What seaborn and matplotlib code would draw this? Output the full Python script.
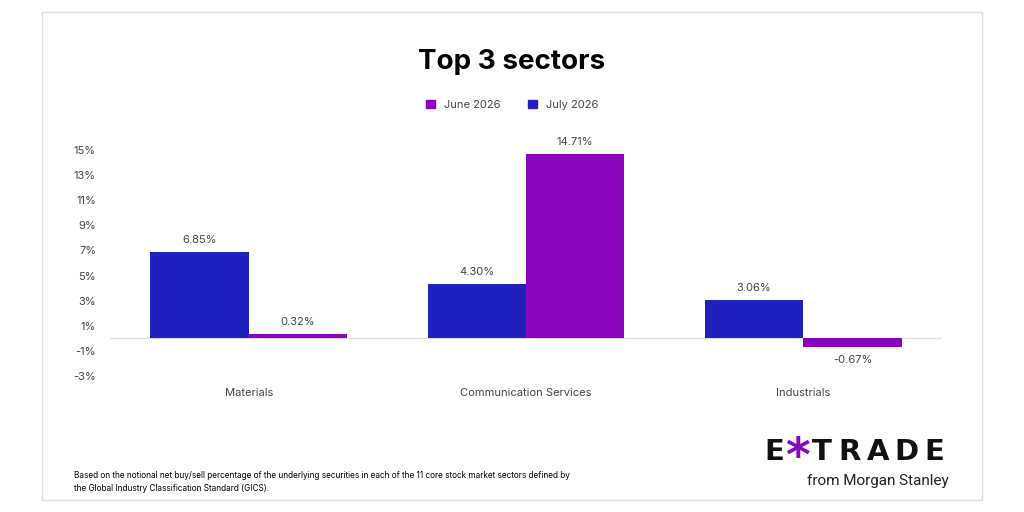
import matplotlib
matplotlib.use('Agg')
import matplotlib.pyplot as plt
import matplotlib.patches as mpatches
import seaborn as sns
import pandas as pd

sectors = ['Materials', 'Communication Services', 'Industrials']
june = [0.32, 14.71, -0.67]
july = [6.85, 4.30, 3.06]
yticks = [-3, -1, 1, 3, 5, 7, 9, 11, 13, 15]

blue = '#2121BD'
purple = '#8A05BE'

df = pd.DataFrame({
    'sector': sectors * 2,
    'value': july + june,
    'month': ['July 2026'] * 3 + ['June 2026'] * 3,
})

sns.set_theme(style='white')
plt.rcParams['font.family'] = ['Inter', 'DejaVu Sans']

fig = plt.figure(figsize=(10.24, 5.12), dpi=100)
# card border
fig.patches.append(mpatches.Rectangle((42/1024, 12/512), 940/1024, 488/512,
                                      transform=fig.transFigure, fill=False,
                                      edgecolor='#dddddd', lw=1))
ax = fig.add_axes([110/1024, 1-376/512, 832/1024, 226/512])
sns.barplot(data=df, x='sector', y='value', hue='month',
            hue_order=['July 2026', 'June 2026'], saturation=1,
            palette=[blue, purple], width=0.71, ax=ax, legend=False,
            linewidth=0, edgecolor='none')
ax.set_xlim(-0.5, 2.5)
ax.set_ylim(-3, 15)
ax.set_yticks(yticks)
ax.set_yticklabels([f'{t}%' for t in yticks], fontsize=8, color='#444444')
ax.tick_params(axis='x', labelsize=8, colors='#444444', pad=9, length=0)
ax.tick_params(axis='y', pad=10, length=0)
ax.set_xlabel('')
ax.set_ylabel('')
for s in ax.spines.values():
    s.set_visible(False)
ax.axhline(0, color='#dddddd', lw=1, zorder=0)

for c in ax.containers:
    for bar in c:
        h = bar.get_height()
        x = bar.get_x() + bar.get_width() / 2
        if h >= 0:
            ax.annotate(f'{h:.2f}%', (x, h), xytext=(0, 5), textcoords='offset points',
                        ha='center', va='bottom', fontsize=8, color='#444444')
        else:
            ax.annotate(f'{h:.2f}%', (x, h), xytext=(0, -6), textcoords='offset points',
                        ha='center', va='top', fontsize=8, color='#444444')

fig.text(0.5, 1-62/512, 'Top 3 sectors', ha='center', va='center',
         fontsize=20, fontweight='bold', color='black')
handles = [mpatches.Patch(color=purple, label='June 2026'),
           mpatches.Patch(color=blue, label='July 2026')]
fig.legend(handles=handles, loc='center', bbox_to_anchor=(0.5, 1-105/512), ncol=2,
           frameon=False, fontsize=8, handlelength=0.8, handleheight=0.8,
           columnspacing=2.5, labelcolor='#444444')

fig.text(74/1024, 1-482/512,
         'Based on the notional net buy/sell percentage of the underlying securities in each of the 11 core stock market sectors defined by\nthe Global Industry Classification Standard (GICS).',
         ha='left', va='center', fontsize=5.9, color='black', linespacing=1.5)

# logo, letters spaced out
logo_y = 1 - 452/512
fig.text(774/1024, logo_y, 'E', ha='center', va='center', fontsize=21,
         fontweight='bold', color='#111111', family='DejaVu Sans')
fig.text(797/1024, 1-458/512, '*', ha='center', va='center', fontsize=34,
         fontweight='bold', color=purple, family='DejaVu Sans')
for i, ch in enumerate('TRADE'):
    fig.text((822 + 28*i)/1024, logo_y, ch, ha='center', va='center', fontsize=21,
             fontweight='bold', color='#111111', family='DejaVu Sans')
fig.text(949/1024, 1-481/512, 'from Morgan Stanley', ha='right', va='center',
         fontsize=11, color='#222222', family='Roboto')

fig.savefig('out.png', dpi=100, facecolor='white')
